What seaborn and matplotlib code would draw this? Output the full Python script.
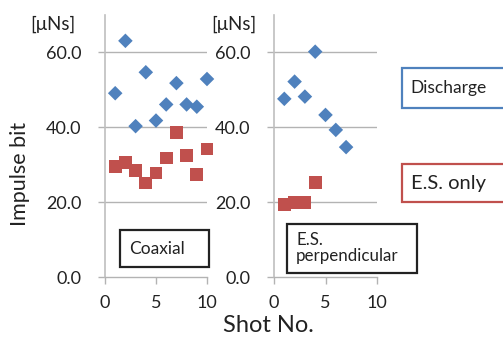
import matplotlib
matplotlib.use("Agg")
import matplotlib.pyplot as plt
import seaborn as sns
import pandas as pd
from matplotlib.patches import Rectangle

sns.set_theme(style="white")
plt.rcParams['font.family'] = ['Lato', 'DejaVu Sans']

# Data
coax_shots = [1, 2, 3, 4, 5, 6, 7, 8, 9, 10]
coax_discharge = [49.1, 63.1, 40.3, 54.7, 41.8, 46.1, 51.8, 46.1, 45.5, 52.9]
coax_es_only = [29.6, 30.5, 28.4, 25.1, 27.8, 31.8, 38.7, 32.4, 27.3, 34.2]

perp_shots_d = [1, 2, 3, 4, 5, 6, 7]
perp_discharge = [47.6, 52.2, 48.2, 60.2, 43.3, 39.3, 34.7]
perp_shots_e = [1, 2, 3, 4]
perp_es_only = [19.3, 19.8, 19.8, 25.2]

yticks = [0, 20, 40, 60]
ytick_labels = ["0.0", "20.0", "40.0", "60.0"]
xticks = [0, 5, 10]

BLUE = "#4F81BD"
RED = "#C0504D"
GRID = "#B3B3B3"
AX = "#BFBFBF"
TXT = "#222222"

W, H = 503, 340
fig = plt.figure(figsize=(W / 100, H / 100), dpi=100)


def fx(px):
    return px / W


def fy(py):
    return 1 - py / H


ax1 = fig.add_axes([fx(105), fy(277), fx(102), (277 - 15) / H])
ax2 = fig.add_axes([fx(274), fy(277), fx(103), (277 - 15) / H])

df1d = pd.DataFrame({"shot": coax_shots, "val": coax_discharge})
df1e = pd.DataFrame({"shot": coax_shots, "val": coax_es_only})
df2d = pd.DataFrame({"shot": perp_shots_d, "val": perp_discharge})
df2e = pd.DataFrame({"shot": perp_shots_e, "val": perp_es_only})

for ax, dd, de in [(ax1, df1d, df1e), (ax2, df2d, df2e)]:
    sns.scatterplot(data=dd, x="shot", y="val", ax=ax, marker="D", s=55,
                    color=BLUE, edgecolor="none", zorder=3, clip_on=False)
    sns.scatterplot(data=de, x="shot", y="val", ax=ax, marker="s", s=85,
                    color=RED, edgecolor="none", zorder=3, clip_on=False)
    ax.set_xlim(0, 10)
    ax.set_ylim(0, 70)
    ax.set_xticks(xticks)
    ax.set_yticks(yticks)
    ax.set_yticklabels(ytick_labels)
    ax.set_xlabel("")
    ax.set_ylabel("")
    ax.set_facecolor("none")
    for y in yticks[1:]:
        ax.axhline(y, color=GRID, lw=1.0, zorder=1)
    for s in ["top", "right"]:
        ax.spines[s].set_visible(False)
    ax.spines["left"].set_color(AX)
    ax.spines["left"].set_linewidth(1.2)
    ax.spines["bottom"].set_color(GRID)
    ax.spines["bottom"].set_linewidth(1.0)
    ax.tick_params(axis="y", direction="out", length=5, width=1.0, color=GRID,
                   pad=12, labelsize=13, labelcolor=TXT, left=True)
    ax.tick_params(axis="x", direction="out", length=5, width=1.0, color=GRID,
                   pad=8, labelsize=13, labelcolor=TXT, bottom=True)

# Units
fig.text(fx(53), fy(24), "[μNs]", ha="center", va="center", fontsize=13.5, color=TXT)
fig.text(fx(234), fy(24), "[μNs]", ha="center", va="center", fontsize=13.5, color=TXT)

# Axis labels
fig.text(fx(20), fy(174), "Impulse bit", rotation=90, ha="center", va="center",
         fontsize=15.5, color=TXT)
fig.text(fx(268), fy(325), "Shot No.", ha="center", va="center",
         fontsize=17, color=TXT)


def box(x0, y0, x1, y1, ec):
    r = Rectangle((fx(x0), fy(y1)), fx(x1 - x0), (y1 - y0) / H,
                  transform=fig.transFigure, facecolor="white", edgecolor=ec,
                  linewidth=1.6, zorder=5)
    fig.add_artist(r)


box(402, 68, 515, 108, BLUE)
fig.text(fx(410), fy(88), "Discharge", ha="left", va="center", fontsize=12.5,
         color=TXT, zorder=6)
box(402, 164, 515, 202, RED)
fig.text(fx(411), fy(184), "E.S. only", ha="left", va="center", fontsize=14.5,
         color=TXT, zorder=6)
box(120, 230, 209, 267, TXT)
fig.text(fx(129), fy(249), "Coaxial", ha="left", va="center", fontsize=12.5,
         color=TXT, zorder=6)
box(287, 224, 417, 273, TXT)
fig.text(fx(296), fy(248), "E.S.\nperpendicular", ha="left", va="center",
         fontsize=12.2, color=TXT, linespacing=1.0, zorder=6)

fig.savefig("out.png", dpi=100)
